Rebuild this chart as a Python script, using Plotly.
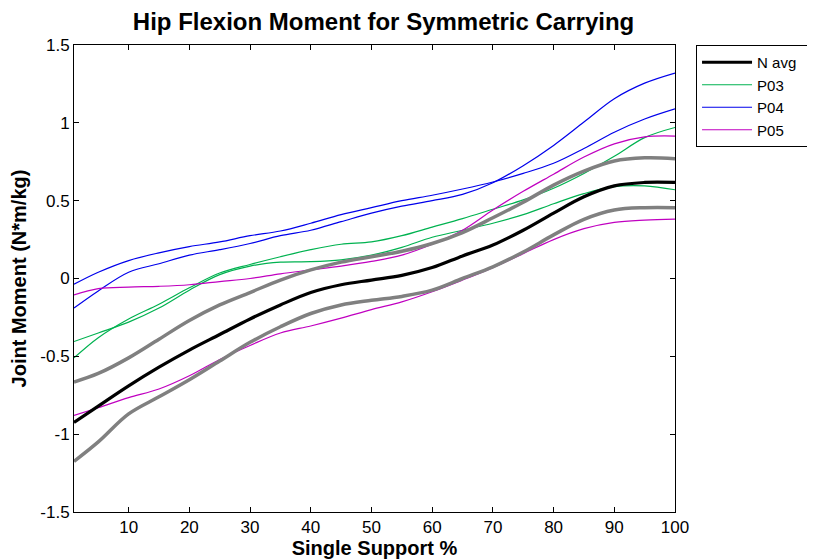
import plotly.graph_objects as go

x_pct = [1, 5, 10, 15, 20, 25, 30, 35, 40, 45, 50, 55, 60, 65, 70, 75, 80, 85, 90, 95, 100]

n_avg = [-0.925, -0.82, -0.69, -0.57, -0.46, -0.36, -0.26, -0.17, -0.09, -0.04, -0.01, 0.02, 0.07,
         0.145, 0.215, 0.31, 0.42, 0.525, 0.595, 0.617, 0.617]
n_upper = [-0.665, -0.61, -0.51, -0.39, -0.27, -0.17, -0.09, -0.01, 0.055, 0.105, 0.14, 0.175, 0.225,
           0.295, 0.39, 0.49, 0.60, 0.69, 0.755, 0.775, 0.77]
n_lower = [-1.175, -1.05, -0.87, -0.76, -0.65, -0.53, -0.41, -0.31, -0.225, -0.17, -0.14, -0.115, -0.075,
           0.0, 0.075, 0.17, 0.28, 0.38, 0.44, 0.455, 0.455]

p03_a = [-0.405, -0.35, -0.28, -0.19, -0.075, 0.025, 0.08, 0.105, 0.108, 0.12, 0.15, 0.20, 0.265,
         0.31, 0.355, 0.41, 0.48, 0.545, 0.59, 0.595, 0.57]
p03_b = [-0.51, -0.38, -0.26, -0.165, -0.06, 0.035, 0.09, 0.14, 0.185, 0.22, 0.235, 0.275, 0.33,
         0.385, 0.445, 0.505, 0.58, 0.675, 0.785, 0.905, 0.97]

p04_a = [-0.037, 0.04, 0.115, 0.165, 0.205, 0.235, 0.275, 0.305, 0.355, 0.41, 0.455, 0.50, 0.535,
         0.575, 0.62, 0.675, 0.74, 0.835, 0.94, 1.025, 1.09]
p04_b = [-0.19, -0.08, 0.04, 0.095, 0.15, 0.185, 0.225, 0.275, 0.31, 0.365, 0.42, 0.465, 0.50,
         0.54, 0.615, 0.725, 0.855, 1.005, 1.155, 1.255, 1.32]

p05_a = [-0.105, -0.065, -0.055, -0.05, -0.04, -0.02, 0.0, 0.03, 0.055, 0.08, 0.11, 0.15, 0.22,
         0.31, 0.44, 0.56, 0.67, 0.78, 0.865, 0.91, 0.915]
p05_b = [-0.88, -0.83, -0.765, -0.71, -0.625, -0.52, -0.43, -0.35, -0.305, -0.255, -0.20, -0.15, -0.085,
         -0.01, 0.07, 0.16, 0.25, 0.32, 0.36, 0.375, 0.382]

y_ticks = [-1.5, -1, -0.5, 0, 0.5, 1, 1.5]
y_tick_text = ["-1.5", "-1", "-0.5", "0", "0.5", "1", "1.5"]
x_ticks = [10, 20, 30, 40, 50, 60, 70, 80, 90, 100]

GREEN = "rgb(0,178,80)"
BLUE = "rgb(0,0,235)"
MAGENTA = "rgb(192,0,192)"
GRAY = "rgb(128,128,128)"

fig = go.Figure()

def add(y, color, width, name, show, rank):
    fig.add_trace(go.Scatter(x=x_pct, y=y, mode="lines", name=name, showlegend=show,
                             legendrank=rank,
                             line=dict(color=color, width=width, shape="spline", smoothing=1.0)))

add(p03_a, GREEN, 1.2, "P03", True, 2)
add(p03_b, GREEN, 1.2, "P03", False, 2)
add(p04_a, BLUE, 1.2, "P04", True, 3)
add(p04_b, BLUE, 1.2, "P04", False, 3)
add(p05_a, MAGENTA, 1.2, "P05", True, 4)
add(p05_b, MAGENTA, 1.2, "P05", False, 4)
add(n_upper, GRAY, 3.5, "N +SD", False, 5)
add(n_lower, GRAY, 3.5, "N -SD", False, 5)
add(n_avg, "black", 3.2, "N avg\u00a0\u00a0\u00a0\u00a0", True, 1)

fig.update_layout(
    width=815, height=560,
    margin=dict(l=66, r=148, t=37, b=56, autoexpand=False),
    paper_bgcolor="white", plot_bgcolor="white",
    font=dict(family="Liberation Sans, Arial, sans-serif", color="black", size=17),
    title=dict(text="<b>Hip Flexion Moment for Symmetric Carrying</b>", x=0.515, xref="paper",
               xanchor="center", y=0.975, yref="container", yanchor="middle",
               font=dict(size=24, color="black")),
    showlegend=True,
    legend=dict(x=1.035, y=1.0, xanchor="left", yanchor="top", bgcolor="white",
                bordercolor="black", borderwidth=1, font=dict(size=15), traceorder="normal",
                tracegroupgap=0, itemwidth=50),
    xaxis=dict(range=[1, 100], tickvals=x_ticks, ticks="inside", ticklen=5, tickcolor="black",
               showline=True, linecolor="black", linewidth=1, mirror="ticks", showgrid=False,
               zeroline=False, tickfont=dict(size=17), automargin=False,
               title=dict(text="<b>Single Support %</b>", font=dict(size=20), standoff=2)),
    yaxis=dict(range=[-1.5, 1.5], tickvals=y_ticks, ticktext=y_tick_text, ticks="inside", ticklen=5,
               tickcolor="black", showline=True, linecolor="black", linewidth=1, mirror="ticks",
               showgrid=False, zeroline=False, tickfont=dict(size=17), automargin=False,
               title=dict(text="<b>Joint Moment (N*m/kg)</b>", font=dict(size=20), standoff=8)),
)

fig.write_html("out.html")
